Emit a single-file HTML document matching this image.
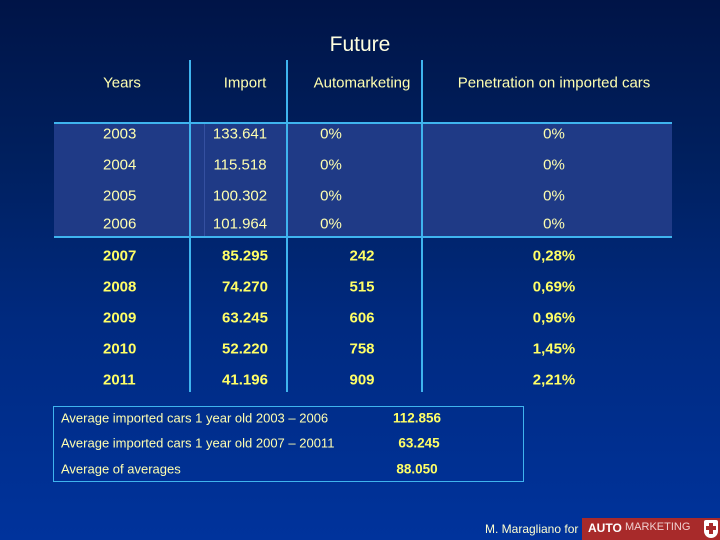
<!DOCTYPE html>
<html><head><meta charset="utf-8"><style>
body{margin:0}
#s{position:relative;width:720px;height:540px;overflow:hidden;background:linear-gradient(#001447 0%,#00205f 30%,#002a80 60%,#00339c 100%);font-family:"Liberation Sans",sans-serif;color:#ffffb0}
.t{position:absolute;font-size:15px;white-space:nowrap;transform:translate(-50%,-50%)}
.l{position:absolute;font-size:15px;white-space:nowrap;transform:translateY(-50%)}
.b{font-weight:bold;color:#ffff66;font-size:15px}
.ln{position:absolute;background:#3fb4ee}
</style></head><body>
<div id="s">
<div class="t" style="left:360px;top:45px;font-size:21px;color:#ffffe0">Future</div>
<div style="position:absolute;left:54px;top:123px;width:618px;height:113px;background:#1f3a86"></div>
<div class="ln" style="left:54px;top:122px;width:618px;height:2px"></div>
<div class="ln" style="left:54px;top:236px;width:618px;height:2px"></div>
<div class="ln" style="left:189px;top:60px;width:1.5px;height:332px"></div>
<div class="ln" style="left:286px;top:60px;width:1.5px;height:332px"></div>
<div class="ln" style="left:421px;top:60px;width:1.5px;height:332px"></div>
<div style="position:absolute;left:204px;top:124px;width:1px;height:112px;background:#3550a0"></div>
<div class="t" style="left:122px;top:83px">Years</div>
<div class="t" style="left:245px;top:83px">Import</div>
<div class="t" style="left:362px;top:83px">Automarketing</div>
<div class="t" style="left:554px;top:83px">Penetration on imported cars</div>
<div id="rows"></div>
<div style="position:absolute;left:53px;top:406px;width:469px;height:74px;border:1px solid #3fb4ee"></div>
<div class="l" style="left:61px;top:418px;font-size:13px">Average imported cars 1 year old 2003 – 2006</div>
<div class="l" style="left:61px;top:443px;font-size:13px">Average imported cars 1 year old 2007 – 20011</div>
<div class="l" style="left:61px;top:469px;font-size:13px">Average of averages</div>
<div class="t b" style="left:417px;top:418px;font-size:13.5px">112.856</div>
<div class="t b" style="left:419px;top:443px;font-size:13.5px">63.245</div>
<div class="t b" style="left:417px;top:469px;font-size:13.5px">88.050</div>
<div class="l" style="left:485px;top:529px;font-size:12px;color:#ffffd0">M. Maragliano for</div>
<div style="position:absolute;left:582px;top:518px;width:138px;height:22px;background:#a82a2a">
<span style="position:absolute;left:6px;top:3px;font-size:12px;font-weight:bold;color:#fff">AUTO</span>
<span style="position:absolute;left:43px;top:3px;font-size:11px;color:#f0d0d0">MARKETING</span>
<div style="position:absolute;left:122px;top:2px;width:14px;height:18px;background:#fff;border-radius:2px 2px 7px 7px"></div>
<div style="position:absolute;left:127px;top:5px;width:4px;height:11px;background:#a82a2a"></div>
<div style="position:absolute;left:124px;top:8px;width:10px;height:4px;background:#a82a2a"></div>
</div>
</div>
<script>
const years=["2003","2004","2005","2006","2007","2008","2009","2010","2011"];
const imports=["133.641","115.518","100.302","101.964","85.295","74.270","63.245","52.220","41.196"];
const automarketing=["0%","0%","0%","0%","242","515","606","758","909"];
const penetration=["0%","0%","0%","0%","0,28%","0,69%","0,96%","1,45%","2,21%"];
const rowY=[134,165,196,224,256,287,318,349,380];
const host=document.getElementById('rows');
years.forEach((y,i)=>{
  const bold=i>=4;
  const cells=[[y,103,'l'],[imports[i],bold?245:240,'t'],[automarketing[i],bold?362:331,'t'],[penetration[i],554,'t']];
  cells.forEach((c,j)=>{
    const d=document.createElement('div');
    d.className=c[2]+(bold?' b':'');
    d.style.left=c[1]+'px';d.style.top=rowY[i]+'px';
    d.textContent=c[0];
    
    
    host.appendChild(d);
  });
});
</script>
</body></html>
